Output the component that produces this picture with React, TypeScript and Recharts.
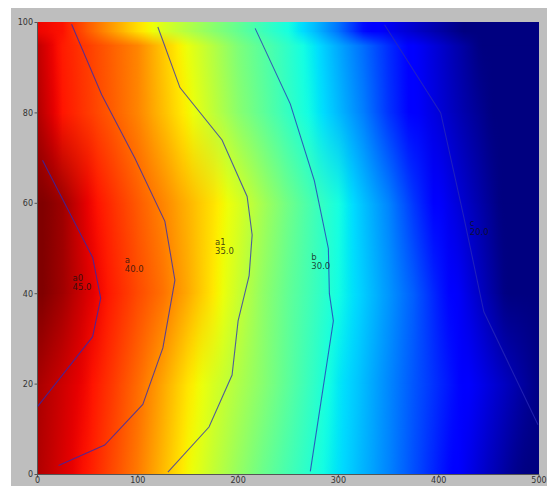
import React from 'react';
import { ComposedChart, XAxis, YAxis, Scatter, ReferenceArea } from 'recharts';

const gridX = [0, 25, 50, 75, 100, 125, 150, 175, 200, 225, 250, 275, 300, 325, 350, 375, 400, 425, 450, 475, 500];
const field0 = [46.1, 45.1, 44.0, 42.5, 41.0, 39.1, 37.2, 35.5, 33.9, 32.4, 31.1, 29.9, 28.6, 27.3, 26.0, 24.5, 23.0, 21.6, 20.3, 19.1, 18.3];
const field20 = [46.3, 45.4, 44.4, 43.0, 41.5, 39.7, 37.8, 36.2, 34.8, 33.4, 31.9, 30.4, 28.8, 27.5, 26.1, 24.7, 23.4, 22.1, 21.0, 19.9, 18.8];
const field40 = [47.5, 46.5, 45.1, 43.8, 42.5, 41.3, 39.6, 37.7, 35.7, 33.7, 32.1, 30.8, 29.4, 28.0, 26.5, 24.9, 23.0, 21.4, 19.8, 18.2, 16.5];
const field60 = [47.5, 46.6, 44.7, 43.3, 42.0, 40.7, 39.3, 37.9, 36.3, 34.4, 32.6, 31.0, 29.5, 27.7, 26.0, 23.8, 21.9, 20.6, 19.3, 18.0, 16.7];
const field80 = [46.1, 44.1, 43.0, 41.9, 40.7, 39.0, 37.3, 35.4, 33.5, 32.0, 30.5, 29.1, 27.5, 25.8, 23.7, 22.0, 20.9, 19.8, 18.8, 17.7, 16.7];
const field95 = [45.7, 43.9, 42.9, 41.8, 40.7, 38.7, 36.8, 35.0, 33.1, 31.7, 30.3, 28.8, 27.0, 25.3, 23.5, 21.9, 20.7, 19.5, 18.3, 17.2, 16.0];
// the thin strip along the top edge
const fieldTop = [44.6, 44.2, 42.0, 40.0, 38.0, 36.3, 34.9, 33.5, 32.2, 30.8, 29.5, 27.7, 25.5, 22.6, 21.5, 20.6, 19.7, 18.7, 17.8, 16.9, 16.0];

const fieldRows = [
  { y: 0, values: field0 },
  { y: 20, values: field20 },
  { y: 40, values: field40 },
  { y: 60, values: field60 },
  { y: 80, values: field80 },
  { y: 95, values: field95 },
  { y: 98, values: fieldTop },
  { y: 100, values: fieldTop },
];

const colorMin = 18.7;
const colorMax = 47.3;

// contour lines
const contourA0 = [{ x: 0, y: 15 }, { x: 55, y: 30.5 }, { x: 63, y: 39 }, { x: 55, y: 48 }, { x: 5, y: 69.5 }];
const contourA = [
  { x: 21, y: 2 }, { x: 67, y: 6.5 }, { x: 105, y: 15.5 }, { x: 125, y: 28 }, { x: 137, y: 43 },
  { x: 127, y: 56 }, { x: 97, y: 70 }, { x: 64, y: 84 }, { x: 34, y: 99.6 },
];
const contourA1 = [
  { x: 130, y: 0.5 }, { x: 171, y: 10.5 }, { x: 194, y: 22 }, { x: 200, y: 34 }, { x: 211, y: 44 },
  { x: 214, y: 53 }, { x: 209, y: 61.5 }, { x: 184, y: 74 }, { x: 142, y: 85.6 }, { x: 120, y: 99 },
];
const contourB = [
  { x: 272, y: 0.7 }, { x: 295, y: 34 }, { x: 291, y: 40 }, { x: 290, y: 50 }, { x: 276, y: 65 },
  { x: 252, y: 82 }, { x: 217, y: 98.7 },
];
const contourC = [{ x: 346, y: 99.5 }, { x: 402, y: 80 }, { x: 425, y: 57 }, { x: 445, y: 36 }, { x: 499, y: 11 }];

const contourLabels = [
  { x: 35, y: 42.8, name: 'a0', level: '45.0' },
  { x: 87, y: 46.8, name: 'a', level: '40.0' },
  { x: 177, y: 50.8, name: 'a1', level: '35.0' },
  { x: 273, y: 47.5, name: 'b', level: '30.0' },
  { x: 431, y: 55.0, name: 'c', level: '20.0' },
];

const xTicks = [0, 100, 200, 300, 400, 500];
const yTicks = [0, 20, 40, 60, 80, 100];

// matplotlib jet
const JET_R = [[0, 0], [0.35, 0], [0.66, 1], [0.89, 1], [1, 0.5]];
const JET_G = [[0, 0], [0.125, 0], [0.375, 1], [0.64, 1], [0.91, 0], [1, 0]];
const JET_B = [[0, 0.5], [0.11, 1], [0.34, 1], [0.65, 0], [1, 0]];

const channel = (pts: number[][], t: number) => {
  for (let i = 0; i < pts.length - 1; i++) {
    const [t0, v0] = pts[i];
    const [t1, v1] = pts[i + 1];
    if (t <= t1) return v0 + ((t - t0) / (t1 - t0)) * (v1 - v0);
  }
  return pts[pts.length - 1][1];
};

const jet = (v: number) => {
  const t = Math.max(0, Math.min(1, (v - colorMin) / (colorMax - colorMin)));
  const c = (p: number[][]) => Math.round(channel(p, t) * 255);
  return `rgb(${c(JET_R)},${c(JET_G)},${c(JET_B)})`;
};

const valueAt = (values: number[], x: number) => {
  for (let i = 0; i < gridX.length - 1; i++) {
    if (x <= gridX[i + 1]) {
      const f = (x - gridX[i]) / (gridX[i + 1] - gridX[i]);
      return values[i] + f * (values[i + 1] - values[i]);
    }
  }
  return values[values.length - 1];
};

const gradientStops = (values: number[]) => {
  const stops = [];
  for (let x = 0; x <= 500; x += 5) {
    stops.push(<stop key={x} offset={x / 500} stopColor={jet(valueAt(values, x))} />);
  }
  return stops;
};

// one horizontal band of the image: lower row colours fading into upper row colours
const renderBand = (i: number) => (props: any) => {
  const { x, y, width, height } = props;
  const lower = fieldRows[i].values;
  const upper = fieldRows[i + 1].values;
  return (
    <g>
      <defs>
        <linearGradient id={`lo-${i}`} x1="0" y1="0" x2="1" y2="0">{gradientStops(lower)}</linearGradient>
        <linearGradient id={`hi-${i}`} x1="0" y1="0" x2="1" y2="0">{gradientStops(upper)}</linearGradient>
        <linearGradient id={`fadeg-${i}`} x1="0" y1="0" x2="0" y2="1">
          <stop offset="0" stopColor="#fff" />
          <stop offset="1" stopColor="#000" />
        </linearGradient>
        <mask id={`fade-${i}`} maskContentUnits="objectBoundingBox">
          <rect x="0" y="0" width="1" height="1" fill={`url(#fadeg-${i})`} />
        </mask>
      </defs>
      <rect x={x} y={y - 0.5} width={width} height={height + 1} fill={`url(#lo-${i})`} />
      <rect x={x} y={y - 0.5} width={width} height={height + 1} fill={`url(#hi-${i})`} mask={`url(#fade-${i})`} />
    </g>
  );
};

const noDot = () => <g />;

const LabelShape = (props: any) => {
  const { cx, cy, payload } = props;
  return (
    <text x={cx} y={cy} fontSize={8.5} fontFamily="DejaVu Sans" fill="#111" fillOpacity={0.8}>
      <tspan x={cx}>{payload.name}</tspan>
      <tspan x={cx} dy={9}>{payload.level}</tspan>
    </text>
  );
};

const lineStyle = { stroke: '#2a2ab8', strokeWidth: 1.1, strokeOpacity: 0.75 };
const tickStyle = { fontSize: 8, fill: '#333', fontFamily: 'DejaVu Sans' };
const frame = { stroke: '#555' };

export default function App() {
  const contours = [contourA0, contourA, contourA1, contourB, contourC];
  return (
    <div style={{ position: 'absolute', left: 0, top: 0, width: 547, height: 486, background: '#fff', overflow: 'hidden' }}>
      <div style={{ position: 'absolute', left: 11, top: 8, width: 536, height: 478, background: '#bebebe' }}>
        <ComposedChart width={536} height={478} margin={{ top: 14.5, right: 8, bottom: 0, left: 0 }}>
          <XAxis
            dataKey="x"
            type="number"
            domain={[0, 500]}
            ticks={xTicks}
            interval={0}
            allowDataOverflow
            height={11.5}
            tickSize={3}
            tickMargin={0}
            tick={tickStyle}
            axisLine={frame}
            tickLine={frame}
          />
          <XAxis
            xAxisId="top"
            orientation="top"
            mirror
            type="number"
            domain={[0, 500]}
            ticks={xTicks}
            interval={0}
            height={0}
            tickSize={3}
            tick={false}
            axisLine={frame}
            tickLine={frame}
          />
          <YAxis
            dataKey="y"
            type="number"
            domain={[0, 100]}
            ticks={yTicks}
            interval={0}
            allowDataOverflow
            width={26.5}
            tickSize={3}
            tickMargin={1.5}
            tick={tickStyle}
            axisLine={frame}
            tickLine={frame}
          />
          <YAxis
            yAxisId="right"
            orientation="right"
            mirror
            type="number"
            domain={[0, 100]}
            ticks={yTicks}
            interval={0}
            width={0}
            tickSize={3}
            tick={false}
            axisLine={frame}
            tickLine={frame}
          />
          {fieldRows.slice(0, -1).map((row, i) => (
            <ReferenceArea
              key={`band-${i}`}
              x1={0}
              x2={500}
              y1={row.y}
              y2={fieldRows[i + 1].y}
              ifOverflow="visible"
              shape={renderBand(i)}
            />
          ))}
          {contours.map((pts, i) => (
            <Scatter
              key={`contour-${i}`}
              data={pts}
              line={lineStyle}
              lineType="joint"
              shape={noDot}
              isAnimationActive={false}
            />
          ))}
          <Scatter data={contourLabels} shape={LabelShape} isAnimationActive={false} />
        </ComposedChart>
      </div>
    </div>
  );
}
